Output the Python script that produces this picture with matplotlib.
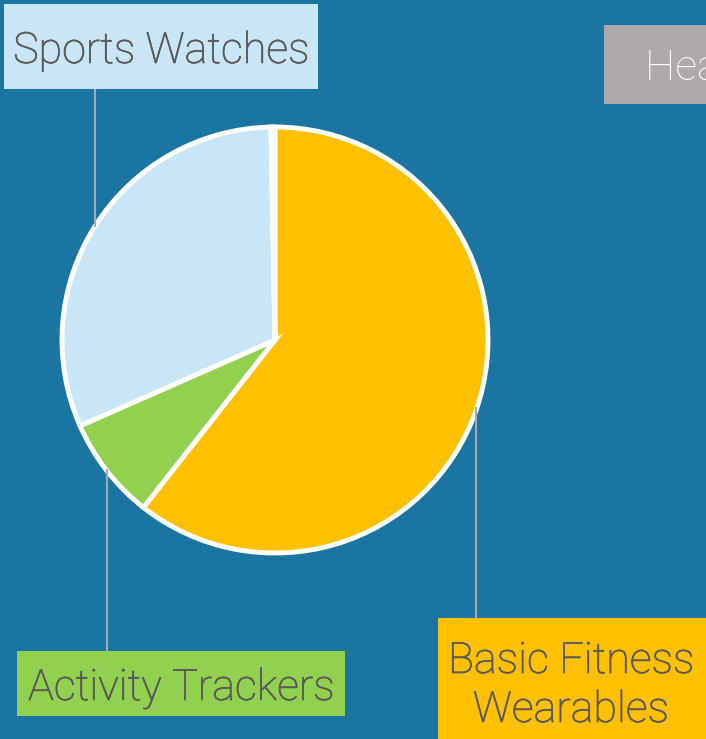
import matplotlib
matplotlib.use("Agg")
import matplotlib.pyplot as plt
import matplotlib.patheffects as pe

# data (share of segment, %)
segments = ["Basic Fitness\nWearables", "Activity Trackers", "Sports Watches", "Healthcare Wearables"]
shares = [60.6, 7.8, 31.3, 0.3]
colors = ["#ffc000", "#92d050", "#c8e6f5", "#aeaaa9"]

W, H = 706, 739
bg = "#1b75a3"

fig = plt.figure(figsize=(W / 100, H / 100), dpi=100)
fig.patch.set_facecolor(bg)
ax = fig.add_axes([0, 0, 1, 1])
ax.set_facecolor(bg)
ax.set_xlim(0, W)
ax.set_ylim(0, H)
ax.set_aspect("equal")
ax.axis("off")

cx, cy, r = 275, H - 340, 213
ax.pie(shares, colors=colors, startangle=90, counterclock=False,
       center=(cx, cy), radius=r,
       wedgeprops=dict(edgecolor="white", linewidth=3.5))
ax.set_xlim(0, W)
ax.set_ylim(0, H)

# leader lines (x, y_top, y_bottom) in pixel coords from top
lines = [(95, 89, 226), (107, 470, 651), (476, 408, 618)]
for x, y0, y1 in lines:
    ax.plot([x, x], [H - y0, H - y1], color="#a8a8a8", lw=1.5, zorder=1)

font = dict(family="Roboto", fontweight="light", fontsize=31)

# label boxes: text, box (x0, y0, x1, y1) in pixel coords from top, box colour, text colour
boxes = [
    (segments[2], (4, 4, 318, 89), colors[2], "#595959"),
    (segments[1], (17, 651, 345, 716), colors[1], "#595959"),
    (segments[0], (438, 618, 760, 760), colors[0], "#595959"),
    (segments[3], (604, 25, 1000, 104), colors[3], "white"),
]
for txt, (x0, y0, x1, y1), fc, tc in boxes:
    ax.add_patch(plt.Rectangle((x0, H - y1), x1 - x0, y1 - y0, facecolor=fc,
                               edgecolor="none", zorder=2, clip_on=False))
    effects = [pe.withStroke(linewidth=0.5, foreground=tc)]
    if txt.startswith("Basic"):
        t = ax.text(571, H - 686, txt, ha="center", va="center", color=tc,
                    linespacing=1.25, zorder=3, **font)
    elif txt.startswith("Health"):
        t = ax.text(645, H - 68, txt, ha="left", va="center", color=tc, zorder=3, **font)
        effects = []
    else:
        t = ax.text((x0 + x1) / 2, H - (y0 + y1) / 2 - 5, txt, ha="center", va="center",
                    color=tc, zorder=3, **font)
    t.set_path_effects(effects)

fig.savefig("out.png", dpi=100, facecolor=bg)
